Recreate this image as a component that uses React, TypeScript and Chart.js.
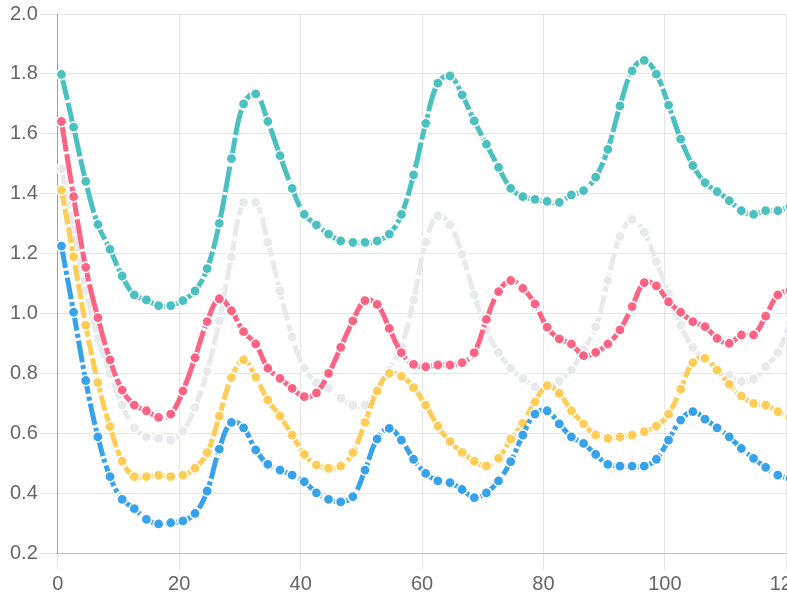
import React, { useRef, useEffect } from "react";
import { Chart, registerables } from "chart.js";

Chart.register(...registerables);

// x positions of the samples (same for every series)
const X_VALUES = [
  0.6, 2.6, 4.6, 6.6, 8.6, 10.6, 12.6, 14.6, 16.6, 18.6,
  20.6, 22.6, 24.6, 26.6, 28.6, 30.6, 32.6, 34.6, 36.6, 38.6,
  40.6, 42.6, 44.6, 46.6, 48.6, 50.6, 52.6, 54.6, 56.6, 58.6,
  60.6, 62.6, 64.6, 66.6, 68.6, 70.6, 72.6, 74.6, 76.6, 78.6,
  80.6, 82.6, 84.6, 86.6, 88.6, 90.6, 92.6, 94.6, 96.6, 98.6,
  100.6, 102.6, 104.6, 106.6, 108.6, 110.6, 112.6, 114.6, 116.6, 118.6,
  120.6,
];

const TEAL_VALUES = [
  1.798, 1.622, 1.441, 1.297, 1.214, 1.125, 1.062, 1.045, 1.026, 1.026,
  1.043, 1.075, 1.15, 1.301, 1.517, 1.7, 1.733, 1.641, 1.527, 1.418,
  1.331, 1.296, 1.265, 1.242, 1.237, 1.237, 1.242, 1.265, 1.331, 1.463,
  1.635, 1.769, 1.793, 1.73, 1.643, 1.565, 1.488, 1.418, 1.39, 1.381,
  1.374, 1.371, 1.396, 1.41, 1.455, 1.548, 1.693, 1.81, 1.845, 1.799,
  1.696, 1.582, 1.494, 1.437, 1.407, 1.377, 1.343, 1.331, 1.343, 1.343,
  1.357,
];

const RED_VALUES = [
  1.641, 1.39, 1.154, 0.986, 0.845, 0.744, 0.694, 0.675, 0.653, 0.664,
  0.741, 0.852, 0.973, 1.049, 1.009, 0.939, 0.898, 0.817, 0.783, 0.75,
  0.722, 0.735, 0.8, 0.887, 0.975, 1.043, 1.03, 0.95, 0.869, 0.83,
  0.822, 0.828, 0.828, 0.836, 0.869, 0.98, 1.073, 1.11, 1.084, 1.032,
  0.954, 0.915, 0.898, 0.859, 0.87, 0.898, 0.945, 1.023, 1.103, 1.092,
  1.039, 1.004, 0.973, 0.956, 0.917, 0.9, 0.928, 0.928, 0.991, 1.062,
  1.076,
];

const GREY_VALUES = [
  1.483, 1.279, 1.078, 0.917, 0.8, 0.694, 0.619, 0.588, 0.583, 0.577,
  0.607, 0.686, 0.806, 0.975, 1.19, 1.371, 1.371, 1.238, 1.075, 0.922,
  0.817, 0.769, 0.75, 0.717, 0.694, 0.694, 0.744, 0.811, 0.889, 1.045,
  1.238, 1.326, 1.296, 1.198, 1.062, 0.945, 0.869, 0.817, 0.783, 0.755,
  0.755, 0.775, 0.811, 0.878, 0.954, 1.11, 1.257, 1.314, 1.271, 1.173,
  1.067, 0.961, 0.887, 0.845, 0.817, 0.794, 0.772, 0.781, 0.822, 0.869,
  0.969,
];

const YELLOW_VALUES = [
  1.412, 1.19, 0.961, 0.769, 0.622, 0.507, 0.455, 0.455, 0.46, 0.455,
  0.46, 0.483, 0.535, 0.657, 0.786, 0.845, 0.787, 0.711, 0.657, 0.594,
  0.529, 0.494, 0.483, 0.49, 0.535, 0.636, 0.741, 0.8, 0.791, 0.752,
  0.694, 0.624, 0.572, 0.536, 0.507, 0.49, 0.516, 0.58, 0.633, 0.705,
  0.759, 0.733, 0.675, 0.631, 0.594, 0.583, 0.588, 0.594, 0.605, 0.624,
  0.664, 0.747, 0.836, 0.85, 0.811, 0.763, 0.724, 0.7, 0.694, 0.672,
  0.653,
];

const BLUE_VALUES = [
  1.225, 1.004, 0.776, 0.588, 0.455, 0.379, 0.348, 0.312, 0.297, 0.301,
  0.307, 0.332, 0.407, 0.547, 0.636, 0.618, 0.544, 0.496, 0.477, 0.46,
  0.438, 0.401, 0.379, 0.371, 0.388, 0.477, 0.581, 0.616, 0.577, 0.513,
  0.466, 0.441, 0.435, 0.412, 0.385, 0.401, 0.441, 0.505, 0.594, 0.664,
  0.675, 0.631, 0.588, 0.566, 0.529, 0.496, 0.49, 0.49, 0.49, 0.513,
  0.577, 0.644, 0.672, 0.647, 0.618, 0.588, 0.549, 0.516, 0.486, 0.46,
  0.449,
];

const COLORS = {
  blue: "rgb(54, 162, 235)",
  yellow: "rgb(255, 205, 86)",
  red: "rgb(255, 99, 132)",
  teal: "rgb(75, 192, 192)",
  grey: "rgb(231, 233, 237)",
};

const toPoints = (values: number[]) =>
  values.map((y, i) => ({ x: X_VALUES[i], y }));

const makeDataset = (label: string, values: number[], color: string, dash: number[]) => ({
  label,
  data: toPoints(values),
  borderColor: color,
  backgroundColor: color,
  borderWidth: 5,
  borderDash: dash,
  pointRadius: 5.2,
  pointBorderWidth: 1.6,
  pointBorderColor: "#ffffff",
  pointBackgroundColor: color,
  tension: 0.4,
  fill: false,
  clip: false as const,
});

export default function App() {
  const canvasRef = useRef<HTMLCanvasElement>(null);

  useEffect(() => {
    if (!canvasRef.current) return;

    const tickFont = {
      family: "'Helvetica Neue', 'Helvetica', 'Arial', sans-serif",
      size: 20,
    };

    const chart = new Chart(canvasRef.current, {
      type: "line",
      data: {
        // first dataset is painted on top
        datasets: [
          makeDataset("Blue", BLUE_VALUES, COLORS.blue, [22, 3, 4, 3]),
          makeDataset("Yellow", YELLOW_VALUES, COLORS.yellow, [16, 3]),
          makeDataset("Red", RED_VALUES, COLORS.red, [30, 3]),
          makeDataset("Teal", TEAL_VALUES, COLORS.teal, [26, 3]),
          makeDataset("Grey", GREY_VALUES, COLORS.grey, [18, 4]),
        ],
      },
      options: {
        responsive: true,
        maintainAspectRatio: false,
        animation: false,
        plugins: {
          legend: { display: false },
          tooltip: { enabled: false },
        },
        scales: {
          x: {
            type: "linear",
            min: 0,
            max: 120,
            ticks: {
              stepSize: 20,
              font: tickFont,
              color: "#666",
              padding: 2,
            },
            grid: { color: "rgba(0,0,0,0.1)", tickLength: 17 },
            border: { color: "rgba(0,0,0,0.15)" },
          },
          y: {
            min: 0.2,
            max: 2.0,
            ticks: {
              stepSize: 0.2,
              font: tickFont,
              color: "#666",
              padding: 2,
              callback: (v: any) => Number(v).toFixed(1),
            },
            grid: { color: "rgba(0,0,0,0.1)", tickLength: 18 },
            border: { color: "rgba(0,0,0,0.3)" },
          },
        },
      },
    });

    return () => {
      chart.destroy();
    };
  }, []);

  return (
    <div style={{ position: "fixed", inset: 0, overflow: "hidden", background: "#fff" }}>
      <div style={{ position: "absolute", left: 8, top: 0, width: 797, height: 598 }}>
        <canvas ref={canvasRef} />
      </div>
    </div>
  );
}
